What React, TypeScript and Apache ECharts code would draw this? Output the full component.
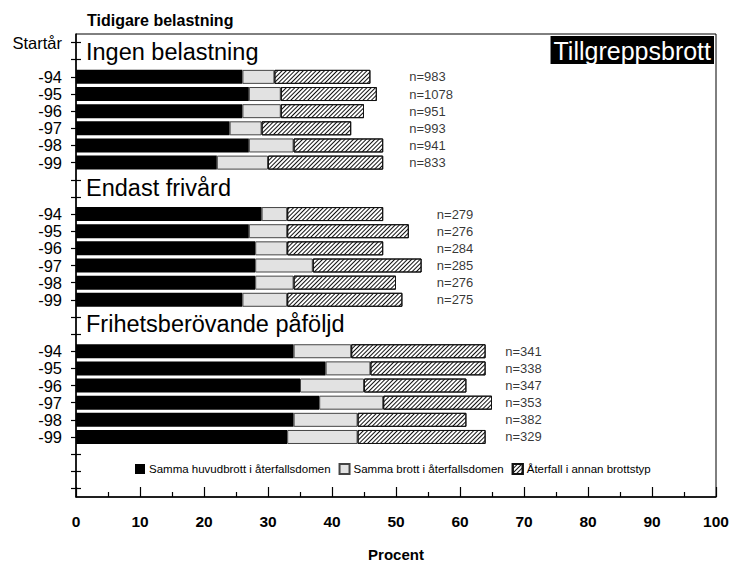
import React, { useEffect, useRef } from "react";
import * as echarts from "echarts";

// ---- data ----
const years = ["-94", "-95", "-96", "-97", "-98", "-99"];
const groupTitles = ["Ingen belastning", "Endast frivård", "Frihetsberövande påföljd"];
const seriesNames = [
  "Samma huvudbrott i återfallsdomen",
  "Samma brott i återfallsdomen",
  "Återfall i annan brottstyp",
];
// per group (Ingen, Endast frivård, Frihetsberövande), per year -94..-99
const sameMainCrime = [
  [26, 27, 26, 24, 27, 22],
  [29, 27, 28, 28, 28, 26],
  [34, 39, 35, 38, 34, 33],
];
const sameCrime = [
  [5, 5, 6, 5, 7, 8],
  [4, 6, 5, 9, 6, 7],
  [9, 7, 10, 10, 10, 11],
];
const otherCrimeType = [
  [15, 15, 13, 14, 14, 18],
  [15, 19, 15, 17, 16, 18],
  [21, 18, 16, 17, 17, 20],
];
const nValues = [
  [983, 1078, 951, 993, 941, 833],
  [279, 276, 284, 285, 276, 275],
  [341, 338, 347, 353, 382, 329],
];
const nLabelX = [52, 56.3, 67];
const xTicks = [0, 10, 20, 30, 40, 50, 60, 70, 80, 90, 100];

// category slots: Startår, blank, 6 years, 2 blanks, 6 years, 2 blanks, 6 years, 3 blanks
const groupStart = [2, 10, 18];
const categories: string[] = [];
categories.push("Startår", "");
years.forEach((y) => categories.push(y));
categories.push("", "");
years.forEach((y) => categories.push(y));
categories.push("", "");
years.forEach((y) => categories.push(y));
categories.push("", "", "");

function buildSeriesData(src: number[][]) {
  const arr: (number | string)[] = categories.map(() => "-");
  src.forEach((g, gi) => g.forEach((v, yi) => (arr[groupStart[gi] + yi] = v)));
  return arr;
}

const FONT = "Liberation Sans, Arial, sans-serif";

export default function App() {
  const ref = useRef<HTMLDivElement>(null);
  useEffect(() => {
    document.body.style.margin = "0";
    if (!ref.current) return;
    const chart = echarts.init(ref.current, null, { renderer: "svg" });

    const nData: any[] = [];
    nValues.forEach((g, gi) =>
      g.forEach((n, yi) => nData.push({ value: [nLabelX[gi], groupStart[gi] + yi], n }))
    );

    const option: any = {
      animation: false,
      textStyle: { fontFamily: FONT, color: "#000" },
      title: [
        {
          text: "Tidigare belastning",
          left: 87,
          top: 12,
          padding: 0,
          textStyle: { fontFamily: FONT, fontSize: 16, fontWeight: "bold", color: "#000" },
        },
        {
          text: "Tillgreppsbrott",
          right: 22,
          top: 36,
          padding: [1, 3, 0, 3],
          backgroundColor: "#000",
          textStyle: { fontFamily: FONT, fontSize: 25, fontWeight: "normal", color: "#fff", lineHeight: 27 },
        },
      ],
      grid: {
        left: 76,
        right: 20,
        top: 34,
        bottom: 66,
        outerBoundsMode: "none",
        containLabel: false,
        show: true,
        borderColor: "#000",
        borderWidth: 1,
        backgroundColor: "transparent",
      },
      legend: {
        data: seriesNames,
        left: 135,
        top: 463,
        padding: 0,
        itemWidth: 10,
        itemHeight: 10,
        itemGap: 8,
        icon: "rect",
        textStyle: { fontFamily: FONT, fontSize: 11.5, color: "#000", padding: [0, 0, 0, -1] },
      },
      xAxis: {
        type: "value",
        min: xTicks[0],
        max: xTicks[xTicks.length - 1],
        interval: 10,
        name: "Procent",
        nameLocation: "middle",
        nameGap: 50,
        nameMoveOverlap: false,
        nameTextStyle: {
          fontFamily: FONT,
          fontSize: 15,
          lineHeight: 14,
          fontWeight: "bold",
          color: "#000",
          verticalAlign: "top",
        },
        axisLine: { show: true, lineStyle: { color: "#000", width: 1.5 } },
        axisTick: { show: true, inside: true, length: 10, lineStyle: { color: "#000", width: 1.2 } },
        minorTick: { show: true, splitNumber: 2, length: 5, lineStyle: { color: "#000", width: 1.2 } },
        splitLine: { show: false },
        axisLabel: { fontFamily: FONT, fontSize: 15.5, fontWeight: "bold", color: "#000", margin: 16, verticalAlign: "top" },
      },
      yAxis: [
        {
          type: "category",
          data: categories,
          inverse: true,
          axisLine: { show: true, lineStyle: { color: "#000", width: 1.5 } },
          axisTick: { show: true, alignWithLabel: true, interval: 0, length: 5, lineStyle: { color: "#000", width: 1.2 } },
          axisLabel: { interval: 0, fontFamily: FONT, fontSize: 16.5, lineHeight: 15, color: "#000", margin: 14 },
          splitLine: { show: false },
        },
        {
          type: "category",
          data: categories,
          inverse: true,
          position: "left",
          axisLine: { show: false },
          axisTick: { show: true, inside: true, alignWithLabel: true, interval: 0, length: 5, lineStyle: { color: "#000", width: 1.2 } },
          axisLabel: { show: false },
          splitLine: { show: false },
        },
      ],
      graphic: groupTitles.map((t, i) => ({
        type: "text",
        left: 86,
        top: [40, 176, 312][i],
        style: { text: t, fontFamily: FONT, fontSize: 23.5, fill: "#000" },
      })),
      series: [
        {
          name: seriesNames[0],
          type: "bar",
          stack: "s",
          barWidth: 14,
          data: buildSeriesData(sameMainCrime),
          itemStyle: { color: "#000", borderColor: "#000", borderWidth: 0 },
        },
        {
          name: seriesNames[1],
          type: "bar",
          stack: "s",
          barWidth: 14,
          data: buildSeriesData(sameCrime),
          itemStyle: { color: "#e2e2e2", borderColor: "#444", borderWidth: 1 },
        },
        {
          name: seriesNames[2],
          type: "bar",
          stack: "s",
          barWidth: 14,
          data: buildSeriesData(otherCrimeType),
          itemStyle: {
            color: "#ffffff",
            borderColor: "#111",
            borderWidth: 1,
            decal: {
              symbol: "rect",
              symbolSize: 1,
              color: "#111",
              dashArrayX: [1, 0],
              dashArrayY: [1, 1.4],
              rotation: -Math.PI / 4,
            },
          },
        },
        {
          name: "n",
          type: "scatter",
          symbol: "circle",
          symbolSize: 1,
          itemStyle: { color: "rgba(0,0,0,0)" },
          data: nData,
          label: {
            show: true,
            position: "right",
            distance: 0,
            fontFamily: FONT,
            fontSize: 13,
            color: "#000",
            textBorderWidth: 0,
            formatter: (p: any) => "n=" + p.data.n,
          },
          z: 5,
        },
      ],
    };
    chart.setOption(option);
    return () => chart.dispose();
  }, []);
  return <div ref={ref} style={{ width: 736, height: 563 }} />;
}
